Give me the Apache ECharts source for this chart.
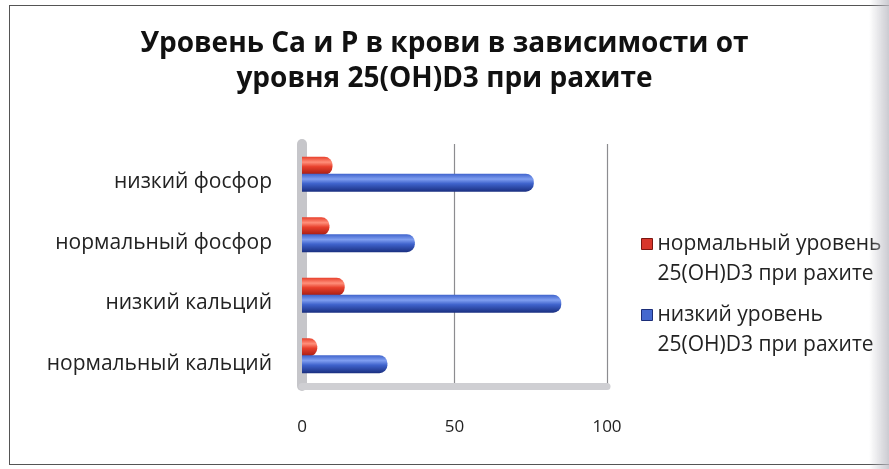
<!DOCTYPE html>
<html>
<head>
<meta charset="utf-8">
<script src="https://cdn.jsdelivr.net/npm/echarts@6/dist/echarts.min.js"></script>
<style>
  html, body { margin: 0; padding: 0; background: #fff; }
  #wrap { position: relative; width: 889px; height: 469px; overflow: hidden; }
  #chart { position: absolute; left: 0; top: 0; width: 889px; height: 469px; }
  #frame { position: absolute; left: 9px; top: 5px; width: 890px; height: 458px;
           border: 1.5px solid #555; pointer-events: none; }
  #edge { position: absolute; right: 0; top: 0; width: 20px; height: 469px; pointer-events: none;
          background: linear-gradient(to right, rgba(200,200,205,0), rgba(190,190,198,0.8)); }
</style>
</head>
<body>
<div id="wrap">
  <div id="chart"></div>
  <div id="frame"></div>
  <div id="edge"></div>
</div>
<script>
// Categories, bottom to top on the vertical axis
const categories = ['нормальный кальций', 'низкий кальций', 'нормальный фосфор', 'низкий фосфор'];
// Percent of patients per group
const normalD3 = [5, 14, 9, 10];
const lowD3 = [28, 85, 37, 76];
const seriesNames = ['нормальный уровень\n25(OH)D3 при рахите', 'низкий уровень\n25(OH)D3 при рахите'];
const xTicks = { min: 0, max: 100, interval: 50 };

const font = '"Open Sans", "Noto Sans", sans-serif';

function cylinder(light, mid, dark) {
  return new echarts.graphic.LinearGradient(0, 0, 0, 1, [
    { offset: 0, color: mid },
    { offset: 0.3, color: light },
    { offset: 0.55, color: mid },
    { offset: 1, color: dark }
  ]);
}

// legend swatch sits beside the first text line of each two-line entry
const swatch = 'path://M0 0H11V11H0Z M0 41';

const chart = echarts.init(document.getElementById('chart'), null, { renderer: 'canvas' });
chart.setOption({
  backgroundColor: 'transparent',
  animation: false,
  title: {
    text: 'Уровень Ca и P в крови в зависимости от\nуровня 25(OH)D3 при рахите',
    left: 'center',
    top: 22,
    textStyle: { fontFamily: font, fontWeight: 'bold', fontSize: 28, lineHeight: 35, color: '#111' }
  },
  legend: {
    orient: 'vertical',
    left: 636,
    top: 224,
    itemWidth: 11,
    itemHeight: 41,
    itemGap: 11,
    icon: swatch,
    data: [
      { name: seriesNames[0], itemStyle: { color: '#d8362b', borderColor: '#7a1610', borderWidth: 1 } },
      { name: seriesNames[1], itemStyle: { color: '#4468cf', borderColor: '#1b2d78', borderWidth: 1 } }
    ],
    textStyle: { fontFamily: font, fontSize: 21, lineHeight: 30, color: '#222' }
  },
  grid: { left: 302, right: 282, top: 144, bottom: 83 },
  xAxis: {
    type: 'value',
    min: xTicks.min,
    max: xTicks.max,
    interval: xTicks.interval,
    axisLine: { show: true, lineStyle: { color: '#cfcfd3', width: 7 } },
    axisTick: { show: false },
    splitLine: { show: true, lineStyle: { color: '#8c8c90', width: 1.2 } },
    axisLabel: { margin: 33, fontFamily: font, fontSize: 17, color: '#222' }
  },
  yAxis: {
    type: 'category',
    data: categories,
    axisLine: { show: true, lineStyle: { color: '#c6c6ca', width: 10 } },
    axisTick: { show: false },
    axisLabel: { margin: 30, verticalAlign: 'top', lineHeight: 16, fontFamily: font, fontSize: 21, color: '#222' }
  },
  series: [
    {
      name: seriesNames[0],
      type: 'bar',
      data: normalD3,
      barWidth: 18,
      barGap: '-6%',
      z: 2,
      itemStyle: {
        color: cylinder('#ff8f7a', '#e8402c', '#a41c12'),
        borderRadius: [0, 8, 8, 0]
      }
    },
    {
      name: seriesNames[1],
      type: 'bar',
      data: lowD3,
      barWidth: 18,
      z: 3,
      itemStyle: {
        color: cylinder('#7f9ef0', '#3f63cc', '#1a2f80'),
        borderRadius: [0, 8, 8, 0]
      }
    }
  ]
});
</script>
</body>
</html>
